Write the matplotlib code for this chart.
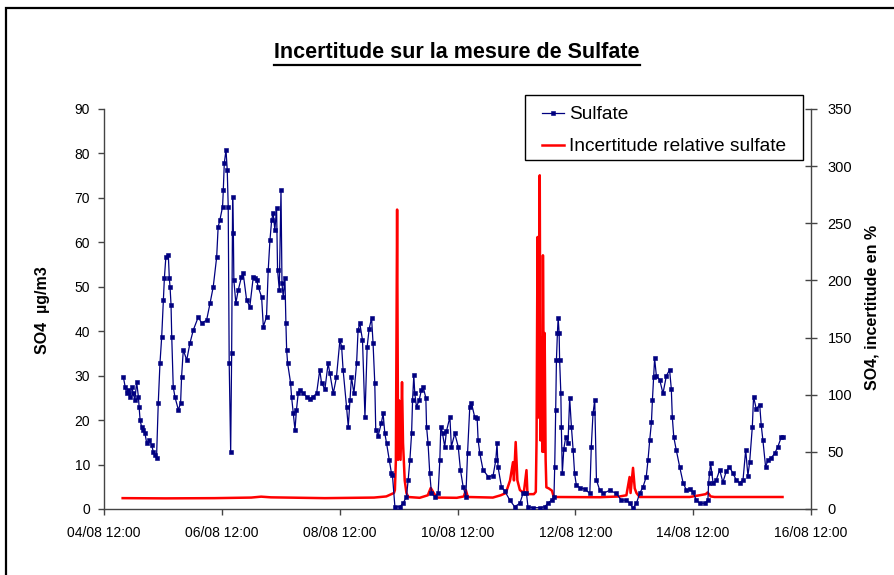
import matplotlib
matplotlib.use('Agg')
import matplotlib.pyplot as plt
import matplotlib.dates as mdates
from matplotlib.lines import Line2D
from matplotlib.patches import Rectangle
import datetime as dt

plt.rcParams['font.family'] = ['Liberation Sans', 'DejaVu Sans']

start = dt.datetime(2006, 8, 4, 12, 0)

# hours since 04/08 12:00
sulfate_hours = [
    7.9, 8.6, 9.2, 9.9, 10.6, 11.3, 11.9, 12.6, 13.3, 14.0, 14.3, 14.7, 15.3, 16.0, 16.7, 17.4,
    18.5, 19.4, 20.1, 20.8, 21.4, 22.1, 22.8, 23.5, 24.2, 24.6, 25.2, 26.2, 26.6, 26.9, 27.3, 27.6,
    28.2, 28.9, 30.3, 31.2, 31.6, 32.3, 33.7, 35.0, 36.4, 38.4, 39.8, 41.8, 43.2, 44.5, 45.9, 46.5,
    47.2, 48.3, 48.6, 49.0, 49.7, 50.2, 50.6, 51.0, 51.6, 52.0, 52.4, 52.7, 52.9, 53.7, 54.7, 56.0,
    56.7, 58.1, 59.4, 60.8, 61.5, 62.2, 62.8, 64.2, 64.9, 66.2, 66.9, 67.6, 68.3, 68.9, 69.6, 70.3,
    70.7, 71.4, 72.1, 72.5, 73.0, 73.7, 74.1, 74.4, 74.8, 76.0, 76.4, 77.1, 77.8, 78.4, 79.1, 79.8,
    81.2, 82.5, 83.9, 85.2, 86.6, 87.9, 88.6, 90.0, 91.3, 92.0, 93.4, 94.7, 96.1, 96.8, 97.4, 98.8,
    99.5, 100.2, 100.8, 101.8, 102.9, 103.5, 104.2, 105.3, 106.3, 107.2, 108.0, 109.0, 109.6, 110.3,
    110.7, 111.7, 113.0, 113.7, 114.4, 115.1, 116.2, 117.1, 117.5, 118.5, 120.5, 121.9, 123.2, 123.9,
    124.6, 125.3, 125.7, 126.2, 126.6, 127.3, 128.4, 129.3, 130.0, 131.1, 131.4, 132.0, 132.7, 133.4,
    134.8, 136.1, 136.8, 137.2, 137.9, 138.8, 139.5, 140.9, 141.5, 142.9, 144.3, 145.2, 146.3, 147.4,
    148.1, 149.0, 149.7, 151.0, 152.0, 152.4, 153.1, 154.4, 156.5, 158.5, 159.6, 160.1, 160.5, 161.9,
    163.3, 165.3, 167.3, 169.4, 170.7, 172.1, 172.7, 174.8, 177.5, 179.5, 180.9, 182.3, 183.3, 183.6,
    184.0, 184.3, 184.7, 185.0, 185.4, 185.6, 186.1, 186.3, 186.7, 187.3, 188.1, 189.0, 189.7, 190.4,
    191.1, 191.7, 192.4, 193.8, 195.8, 197.9, 198.5, 199.2, 199.9, 200.6, 201.9, 203.3, 206.0, 208.7,
    210.7, 212.8, 214.1, 215.5, 216.9, 218.2, 219.6, 220.9, 221.6, 222.3, 223.0, 223.4, 223.9, 224.3,
    225.0, 226.4, 227.7, 229.1, 230.4, 231.1, 231.5, 232.1, 233.1, 234.5, 235.9, 237.2, 238.6, 239.9,
    241.3, 242.6, 244.7, 246.0, 246.3, 246.7, 247.1, 248.1, 249.4, 250.8, 252.1, 253.5, 254.8, 256.2,
    257.6, 258.9, 260.3, 261.4, 262.3, 263.0, 264.1, 264.6, 265.7, 267.1, 267.7, 268.4, 269.5, 270.5,
    271.8, 273.2, 274.5, 275.9, 276.6,
]
sulfate_values = [
    29.7, 27.5, 26.0, 26.8, 25.3, 27.5, 26.0, 24.5, 28.6, 25.3, 23.0, 20.0, 18.5, 17.8, 17.0, 14.8,
    15.5, 14.4, 12.8, 12.2, 11.5, 23.8, 32.8, 38.7, 47.0, 52.0, 56.7, 57.2, 52.0, 50.0, 46.0, 38.7,
    27.5, 25.2, 22.3, 23.8, 29.7, 35.8, 33.5, 37.3, 40.3, 43.2, 41.8, 42.5, 46.3, 50.0, 56.7, 63.5,
    65.0, 68.0, 71.8, 77.8, 80.8, 76.3, 68.0, 32.8, 12.8, 35.0, 70.2, 62.0, 51.5, 46.3, 49.3, 52.2,
    53.0, 47.0, 45.5, 52.2, 52.0, 51.5, 50.0, 47.7, 41.0, 43.2, 53.8, 60.5, 65.0, 66.6, 62.8, 67.7,
    53.8, 49.3, 71.8, 50.8, 47.7, 52.0, 41.8, 35.8, 32.8, 28.4, 25.3, 21.5, 17.8, 22.3, 26.0, 26.8,
    26.0, 25.3, 24.8, 25.3, 26.0, 31.3, 28.4, 27.0, 32.8, 30.5, 26.0, 29.7, 38.0, 36.5, 31.3, 23.0,
    18.5, 24.5, 29.7, 26.0, 32.8, 40.3, 41.8, 38.0, 20.7, 36.5, 40.5, 43.0, 37.3, 28.4,
    17.8, 16.5, 19.4, 21.5, 17.0, 14.8, 11.0, 8.0, 7.6, 0.5, 0.5, 1.3, 2.8, 6.5,
    11.0, 17.0, 24.5, 30.1, 26.0, 23.0, 24.5, 26.8, 27.5, 25.0, 18.5, 14.8, 8.0, 3.5,
    2.8, 3.5, 11.0, 18.5, 17.0, 14.0, 17.5, 20.7, 14.0, 17.0, 14.0, 8.8, 5.0, 2.8,
    12.6, 23.0, 23.8, 20.7, 20.5, 15.5, 12.5, 8.8, 7.3, 7.5, 11.0, 14.8, 9.5, 5.0,
    4.0, 2.0, 0.5, 1.3, 3.5, 3.5, 0.5, 0.3, 0.3, 0.5, 1.3, 2.0, 2.8, 9.5,
    22.3, 33.5, 39.6, 43.0, 39.6, 33.5, 26.0, 18.5, 8.0, 13.5, 16.2, 14.8, 25.0, 18.5,
    13.3, 8.0, 5.4, 4.8, 4.5, 3.5, 14.0, 21.5, 24.5, 6.5, 4.3, 3.5, 4.2, 3.5,
    2.0, 2.0, 1.3, 0.2, 1.3, 3.5, 5.0, 7.3, 11.0, 15.5, 19.5, 24.5, 29.7, 33.9,
    30.0, 29.0, 26.0, 30.0, 31.3, 27.0, 20.7, 16.2, 13.3, 9.5, 5.9, 4.3, 4.5, 3.8,
    2.0, 1.3, 1.3, 2.0, 5.9, 8.0, 10.3, 5.9, 6.5, 8.8, 6.0, 8.5, 9.5, 8.0,
    6.5, 5.9, 6.5, 13.3, 7.5, 10.5, 18.5, 25.3, 22.5, 23.5, 19.0, 15.5, 9.5, 11.0,
    11.5, 12.5, 14.0, 16.2, 16.2,
]

incert_hours = [
    7.6, 25.0, 45.0, 60.0, 64.0, 68.0, 90.0, 110.0, 115.0, 118.1, 118.5, 118.9, 119.4, 119.8,
    120.2, 120.8, 121.4, 121.8, 122.5, 123.2, 123.9, 128.6, 131.9, 133.1, 134.3, 135.6, 143.7,
    146.6, 147.4, 148.2, 158.4, 161.6, 163.7, 165.4, 166.6, 167.0, 167.7, 168.4, 169.4, 171.0,
    172.1, 172.5, 175.1, 175.9, 176.2, 176.6, 177.1, 177.5, 177.8, 178.2, 178.6, 178.8, 179.3,
    179.5, 179.9, 180.2, 181.2, 182.5, 183.2, 201.9, 210.1, 212.8, 214.1, 214.5, 215.5, 216.2,
    216.9, 218.2, 238.6, 242.6, 245.1, 245.9, 247.1, 248.7, 276.4,
]
incert_values = [
    9.5, 9.3, 9.5, 10.0, 10.8, 10.2, 9.5, 10.0, 11.0, 14.0, 16.6, 43.0, 262.0, 43.0,
    95.0, 43.0, 111.0, 58.0, 25.0, 14.0, 10.5, 9.8, 12.0, 18.4, 14.0, 10.0, 9.8,
    11.0, 16.6, 10.5, 10.0, 12.0, 14.0, 25.0, 41.0, 25.0, 58.6, 25.0, 16.6, 14.0,
    34.0, 13.0, 13.0, 15.0, 60.0, 238.0, 80.0, 292.0, 60.0, 150.0, 50.0, 222.0, 50.0,
    154.0, 43.0, 19.0, 18.0, 16.0, 10.5, 10.3, 11.0, 12.0, 28.0, 14.0, 36.0, 18.0,
    14.0, 10.5, 10.5, 12.0, 13.0, 14.5, 11.0, 10.5, 10.5,
]

title_text = "Incertitude sur la mesure de Sulfate"
left_label = "SO4  µg/m3"
right_label = "SO4, incertitude en %"
legend_labels = ["Sulfate", "Incertitude relative sulfate"]

sulf_t = [start + dt.timedelta(hours=h) for h in sulfate_hours]
inc_t = [start + dt.timedelta(hours=h) for h in incert_hours]
x_ticks = [start + dt.timedelta(days=2 * i) for i in range(7)]

W, H = 894, 575
fig = plt.figure(figsize=(W / 100, H / 100), dpi=100)
ax = fig.add_axes([104 / W, 1 - 509 / H, (811 - 104) / W, 400 / H])
ax2 = ax.twinx()

navy = '#000080'
l1, = ax.plot(sulf_t, sulfate_values, color=navy, lw=0.9, marker='s', markersize=3.4,
              markeredgewidth=0.4, markerfacecolor=navy, markeredgecolor=navy, zorder=3)
l2, = ax2.plot(inc_t, incert_values, color='#ff0000', lw=1.8, zorder=2)

ax.set_zorder(ax2.get_zorder() + 1)
ax.patch.set_visible(False)

ax.set_xlim(x_ticks[0], x_ticks[-1])
ax.set_ylim(0, 90)
ax2.set_ylim(0, 350)
ax.set_yticks(range(0, 91, 10))
ax2.set_yticks(range(0, 351, 50))
ax.set_xticks(x_ticks)
ax.xaxis.set_major_formatter(mdates.DateFormatter('%d/%m %H:%M'))

spine_c = '#444444'
for a in (ax, ax2):
    for s in a.spines.values():
        s.set_color(spine_c)
        s.set_linewidth(1.0)
    a.spines['top'].set_visible(False)
ax.spines['right'].set_visible(False)
ax2.spines['left'].set_visible(False)
ax2.spines['bottom'].set_visible(False)

ax.tick_params(axis='y', direction='out', length=4, width=1, color=spine_c, labelsize=10, pad=6)
ax.tick_params(axis='x', direction='out', length=4, width=1, color=spine_c, labelsize=10, pad=8)
ax2.tick_params(axis='y', direction='inout', length=8, width=1, color=spine_c, labelsize=10.5, pad=8)

fig.text(43 / W, 1 - 310 / H, left_label, rotation=90, ha='center', va='center',
         fontsize=11.5, fontweight='bold')
fig.text(872 / W, 1 - 307 / H, right_label, rotation=90, ha='center', va='center',
         fontsize=11.5, fontweight='bold')

t = fig.text(457 / W, 1 - 53 / H, title_text, ha='center', va='center',
             fontsize=15.5, fontweight='bold')

# legend entries placed without frame, frame drawn as its own box
leg = ax.legend([l1, l2], legend_labels, loc='upper left',
                bbox_to_anchor=(542 / W, 1 - 106 / H), bbox_transform=fig.transFigure,
                borderaxespad=0, borderpad=0, fontsize=13.8, frameon=False,
                handlelength=1.15, handletextpad=0.25, labelspacing=0.76, numpoints=1)
fig.add_artist(Rectangle((525 / W, 1 - 160 / H), (803 - 525) / W, 65 / H,
                         transform=fig.transFigure, fill=True, facecolor='white',
                         edgecolor='black', lw=1.0, zorder=4))
leg.set_zorder(5)
fig.add_artist(leg)

# figure border (cut on right/bottom as in the reference)
fig.add_artist(Rectangle((6 / W, -0.1), 1.2, 1.1 - 8 / H, transform=fig.transFigure,
                         fill=False, edgecolor='black', lw=1.6))

fig.canvas.draw()
r = fig.canvas.get_renderer()
bb = t.get_window_extent(r)
y_u = (bb.y0 - 1.0) / H
fig.add_artist(Line2D([bb.x0 / W, bb.x1 / W], [y_u, y_u], transform=fig.transFigure,
                      color='black', lw=1.6))

fig.savefig('out.png', dpi=100)
